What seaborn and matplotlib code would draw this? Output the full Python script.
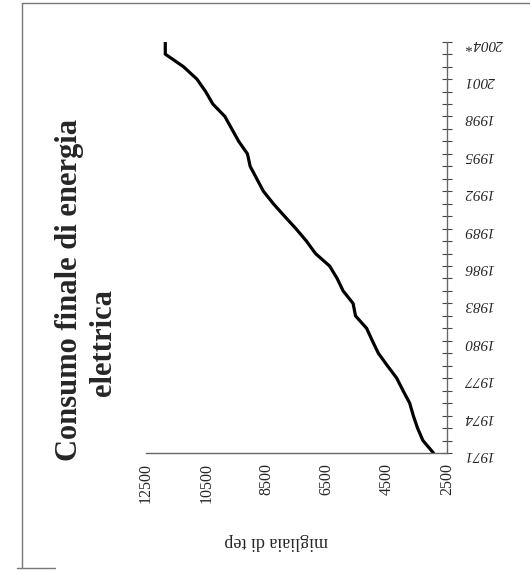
import numpy as np
import pandas as pd
import matplotlib
matplotlib.use('Agg')
import matplotlib.pyplot as plt
from matplotlib.lines import Line2D
import seaborn as sns

# Dati: consumo finale di energia elettrica (migliaia di tep), 1971-2004*
anni = list(range(1971, 2005))
consumo = [2950, 3300, 3480, 3620, 3740, 3960, 4170, 4480, 4780, 4980,
           5170, 5540, 5620, 5950, 6150, 6400, 6870, 7170, 7520, 7900,
           8270, 8600, 8820, 9040, 9130, 9420, 9650, 9880, 10280, 10520,
           10810, 11260, 11860, 11860]
anni_tick = [1971, 1974, 1977, 1980, 1983, 1986, 1989, 1992, 1995, 1998, 2001, 2004]
anni_label = ['1971', '1974', '1977', '1980', '1983', '1986', '1989', '1992',
              '1995', '1998', '2001', '2004*']
valori_tick = [2500, 4500, 6500, 8500, 10500, 12500]

df = pd.DataFrame({'anno': anni, 'consumo': consumo})

sns.set_style('white')
plt.rcParams['font.family'] = ['Liberation Serif', 'DejaVu Serif']

fig = plt.figure(figsize=(5.30, 5.71), dpi=100)
ax = fig.add_axes([0.2755, 0.2067, 0.5679, 0.7203])

# grafico ruotato: valori in orizzontale (invertiti), anni in verticale
sns.lineplot(data=df, x='consumo', y='anno', sort=False, estimator=None,
             color='black', lw=2.3, ax=ax)

ax.set_xlim(12500, 2500)
ax.set_ylim(1971, 2004)
ax.set_xlabel('')
ax.set_ylabel('')

for s in ['top', 'left']:
    ax.spines[s].set_visible(False)
for s in ['right', 'bottom']:
    ax.spines[s].set_color('#666666')
    ax.spines[s].set_linewidth(1.0)

ax.set_xticks(valori_tick)
ax.set_xticklabels([str(v) for v in valori_tick], rotation=90, fontsize=11.5)
ax.yaxis.tick_right()
ax.set_yticks(anni_tick)
ax.set_yticklabels(anni_label, rotation=180, fontsize=11, style='italic')
ax.set_yticks(anni, minor=True)
ax.tick_params(axis='x', direction='inout', length=5, width=0.8, color='#444444', pad=5)
ax.tick_params(axis='y', which='both', direction='inout', length=7, width=0.8,
               color='#444444', pad=9, right=True, left=False)

# titolo su due righe, ruotato
fig.text(0.132, 0.492, 'Consumo finale di energia', rotation=90,
         ha='center', va='center', fontsize=22, fontweight='bold')
fig.text(0.196, 0.40, 'elettrica', rotation=90,
         ha='center', va='center', fontsize=22, fontweight='bold')
fig.text(0.521, 0.051, 'migliaia di tep', rotation=180, ha='center', va='center',
         fontsize=13)

# bordo della scansione
fig.add_artist(Line2D([22/530, 1.0], [1 - 3/571, 1 - 3/571], color='#777777', lw=1))
fig.add_artist(Line2D([22/530, 22/530], [1 - 3/571, 1 - 568/571], color='#777777', lw=1))
fig.add_artist(Line2D([17/530, 55/530], [1 - 568/571, 1 - 568/571], color='#777777', lw=1))

fig.savefig('out.png', dpi=100)
